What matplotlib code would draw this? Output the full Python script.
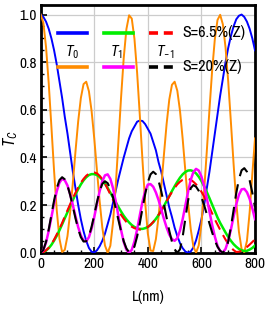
import matplotlib
matplotlib.use("Agg")
import matplotlib.pyplot as plt
import numpy as np

plt.rcParams['font.family'] = ['Archivo Narrow', 'Roboto Condensed', 'DejaVu Sans']
plt.rcParams['mathtext.fontset'] = 'custom'
plt.rcParams['mathtext.rm'] = 'Roboto Condensed'
plt.rcParams['mathtext.it'] = 'Roboto Condensed:italic'

# thickness L (nm), one sample every 10 nm
L = np.arange(0, 801, 10)

# S = 6.5% (Z)
t0_s65 = [1.00, 0.99, 0.97, 0.94, 0.90, 0.85, 0.79, 0.72, 0.65, 0.57,
          0.50, 0.42, 0.34, 0.27, 0.20, 0.14, 0.09, 0.05, 0.02, 0.004,
          0.001, 0.01, 0.027, 0.05, 0.08, 0.12, 0.16, 0.21, 0.26, 0.31,
          0.355, 0.40, 0.44, 0.48, 0.51, 0.53, 0.55, 0.555, 0.553, 0.54,
          0.52, 0.50, 0.465, 0.43, 0.38, 0.34, 0.29, 0.24, 0.19, 0.15,
          0.105, 0.07, 0.04, 0.019, 0.005, 0.0, 0.005, 0.022, 0.052, 0.093,
          0.14, 0.20, 0.27, 0.34, 0.42, 0.50, 0.58, 0.66, 0.73, 0.80,
          0.86, 0.91, 0.95, 0.98, 0.995, 1.0, 0.99, 0.97, 0.94, 0.90,
          0.85]
t1_s65 = [0.0, 0.002, 0.009, 0.019, 0.033, 0.051, 0.071, 0.094, 0.119, 0.145,
          0.170, 0.196, 0.221, 0.245, 0.267, 0.287, 0.304, 0.317, 0.326, 0.330,
          0.330, 0.326, 0.318, 0.306, 0.290, 0.272, 0.252, 0.232, 0.212, 0.192,
          0.173, 0.155, 0.140, 0.127, 0.116, 0.108, 0.103, 0.100, 0.100, 0.103,
          0.108, 0.117, 0.128, 0.142, 0.158, 0.176, 0.196, 0.217, 0.238, 0.259,
          0.279, 0.298, 0.315, 0.329, 0.339, 0.345, 0.346, 0.342, 0.333, 0.319,
          0.301, 0.279, 0.255, 0.229, 0.202, 0.175, 0.148, 0.125, 0.105, 0.085,
          0.066, 0.050, 0.036, 0.025, 0.016, 0.010, 0.007, 0.008, 0.013, 0.020,
          0.030]
tm1_s65 = [0.0, 0.002, 0.010, 0.021, 0.036, 0.055, 0.077, 0.100, 0.125, 0.152,
           0.178, 0.204, 0.229, 0.252, 0.274, 0.294, 0.310, 0.323, 0.332, 0.337,
           0.337, 0.333, 0.323, 0.309, 0.290, 0.268, 0.245, 0.222, 0.199, 0.178,
           0.159, 0.143, 0.129, 0.118, 0.109, 0.103, 0.099, 0.097, 0.098, 0.102,
           0.108, 0.117, 0.129, 0.143, 0.159, 0.177, 0.196, 0.216, 0.236, 0.255,
           0.272, 0.287, 0.298, 0.306, 0.310, 0.310, 0.306, 0.298, 0.287, 0.273,
           0.256, 0.236, 0.214, 0.190, 0.165, 0.140, 0.118, 0.096, 0.075, 0.055,
           0.037, 0.022, 0.011, 0.003, 0.004, 0.008, 0.015, 0.024, 0.034, 0.045,
           0.056]

# S = 20% (Z)
t0_s20 = [1.0, 0.965, 0.863, 0.711, 0.529, 0.343, 0.178, 0.059, 0.003, 0.012,
          0.070, 0.169, 0.293, 0.427, 0.552, 0.650, 0.708, 0.718, 0.678, 0.595,
          0.479, 0.346, 0.217, 0.106, 0.030, 0.0, 0.029, 0.127, 0.278, 0.462,
          0.651, 0.818, 0.939, 0.997, 0.983, 0.898, 0.755, 0.577, 0.387, 0.211,
          0.080, 0.009, 0.007, 0.057, 0.151, 0.275, 0.411, 0.540, 0.643, 0.705,
          0.718, 0.680, 0.596, 0.478, 0.343, 0.211, 0.100, 0.026, 0.0, 0.031,
          0.121, 0.258, 0.425, 0.601, 0.765, 0.896, 0.977, 0.999, 0.959, 0.862,
          0.719, 0.549, 0.374, 0.212, 0.088, 0.015, 0.002, 0.05, 0.17, 0.33,
          0.48]
t1_s20 = [0.0, 0.011, 0.043, 0.092, 0.149, 0.207, 0.258, 0.294, 0.310, 0.304,
          0.282, 0.246, 0.200, 0.152, 0.107, 0.072, 0.051, 0.048, 0.065, 0.101,
          0.150, 0.205, 0.258, 0.300, 0.325, 0.329, 0.310, 0.271, 0.217, 0.156,
          0.095, 0.045, 0.012, 0.0, 0.012, 0.047, 0.098, 0.157, 0.214, 0.259,
          0.286, 0.288, 0.277, 0.253, 0.221, 0.182, 0.142, 0.106, 0.076, 0.057,
          0.050, 0.061, 0.093, 0.141, 0.198, 0.255, 0.305, 0.339, 0.352, 0.345,
          0.320, 0.280, 0.229, 0.173, 0.117, 0.068, 0.029, 0.006, 0.001, 0.016,
          0.050, 0.097, 0.151, 0.203, 0.243, 0.266, 0.268, 0.254, 0.226, 0.186,
          0.141]
tm1_s20 = [0.0, 0.012, 0.046, 0.098, 0.159, 0.219, 0.271, 0.305, 0.317, 0.308,
           0.282, 0.242, 0.194, 0.144, 0.099, 0.065, 0.047, 0.048, 0.069, 0.109,
           0.159, 0.212, 0.258, 0.289, 0.300, 0.292, 0.268, 0.232, 0.187, 0.138,
           0.090, 0.048, 0.018, 0.002, 0.003, 0.026, 0.068, 0.124, 0.186, 0.246,
           0.296, 0.329, 0.340, 0.330, 0.302, 0.258, 0.205, 0.147, 0.092, 0.046,
           0.014, 0.0, 0.014, 0.067, 0.143, 0.218, 0.271, 0.284, 0.277, 0.260,
           0.233, 0.200, 0.162, 0.123, 0.085, 0.052, 0.025, 0.008, 0.0, 0.010,
           0.047, 0.107, 0.178, 0.250, 0.309, 0.346, 0.355, 0.340, 0.304, 0.252,
           0.191]

fig = plt.figure(figsize=(2.72, 3.14), dpi=100)
ax = fig.add_axes([0.1496, 0.1952, 0.7879, 0.7888])

ax.plot(L, t0_s65, color='#0000ff', lw=1.4, zorder=3)
ax.plot(L, t0_s20, color='#ff8c00', lw=1.4, zorder=3)
ax.plot(L, t1_s65, color='#00ee00', lw=1.8, zorder=4)
ax.plot(L, t1_s20, color='#ff00ff', lw=1.8, zorder=5)
ax.plot(L, tm1_s65, color='#ff0000', lw=1.5, ls=(0, (5, 3)), zorder=4)
ax.plot(L, tm1_s20, color='black', lw=1.5, ls=(0, (7, 4)), zorder=6)

ax.set_xlim(0, 800)
ax.set_ylim(0, 1.04)
ax.set_xticks([0, 200, 400, 600, 800])
ax.set_yticks([0.0, 0.2, 0.4, 0.6, 0.8, 1.0])
ax.set_yticklabels(['0.0', '0.2', '0.4', '0.6', '0.8', '1.0'])
ax.set_xticks(np.arange(0, 801, 50), minor=True)
ax.set_yticks(np.arange(0, 1.04, 0.05), minor=True)
ax.tick_params(which='major', direction='in', length=4, width=1.2,
               labelsize=11, top=False, right=False, pad=3)
ax.tick_params(which='minor', direction='in', length=2, width=1,
               top=False, right=False)
ax.grid(True, which='major', color='#cccccc', lw=0.9)
ax.set_axisbelow(True)
for s in ax.spines.values():
    s.set_linewidth(2)

ax.set_xlabel('L(nm)', fontsize=11, labelpad=14)
ax.set_ylabel(r'$T_C$', fontsize=12)
ax.yaxis.set_label_coords(-0.095, 0.46)

# legend grid: columns T0, T1, T-1 ; rows S=6.5%, S=20%
tr = ax.transAxes
cols = [(0.082, 0.217), (0.295, 0.431), (0.505, 0.641)]
row_y = [0.888, 0.751]
styles = [[('#0000ff', '-'), ('#00ee00', '-'), ('#ff0000', (0, (2.5, 1.6)))],
          [('#ff8c00', '-'), ('#ff00ff', '-'), ('black', (0, (2.5, 1.6)))]]
for r, y in enumerate(row_y):
    for c, (x0, x1) in enumerate(cols):
        col, ls = styles[r][c]
        ax.plot([x0, x1], [y, y], color=col, ls=ls, lw=2.6,
                transform=tr, clip_on=False, zorder=7)
ax.text(0.66, row_y[0], 'S=6.5%(Z)', transform=tr, fontsize=11.5,
        va='center', ha='left', zorder=8)
ax.text(0.66, row_y[1], 'S=20%(Z)', transform=tr, fontsize=11.5,
        va='center', ha='left', zorder=8)
for x, lab in zip([0.149, 0.356, 0.58], [r'$T_0$', r'$T_1$', r'$T_{-1}$']):
    ax.text(x, 0.81, lab, transform=tr, fontsize=11, ha='center',
            va='center', zorder=8)

fig.savefig('out.png', dpi=100)
